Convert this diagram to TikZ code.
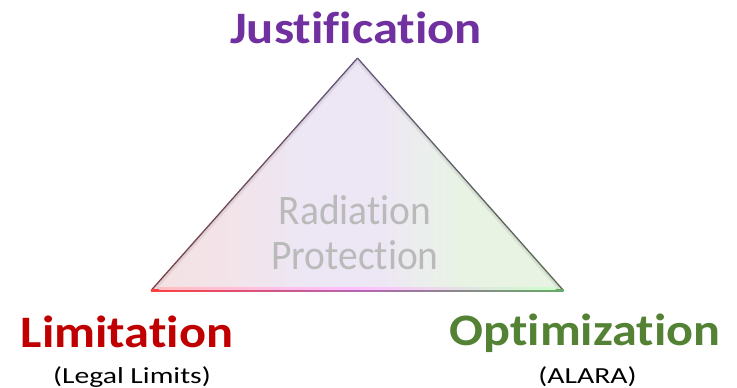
\documentclass[tikz,border=0pt]{standalone}
\usepackage{fontspec}
\setmainfont{Carlito}[Ligatures=NoCommon]
\usepackage{tikz}
\usetikzlibrary{calc}
\definecolor{justpurple}{RGB}{112,48,160}
\definecolor{limred}{RGB}{192,0,0}
\definecolor{optgreen}{RGB}{84,130,53}
\definecolor{pinkwash}{RGB}{244,225,227}
\definecolor{rosewash}{RGB}{242,228,234}
\definecolor{lilacwash}{RGB}{237,230,244}
\definecolor{mistwash}{RGB}{236,238,238}
\definecolor{greenwash}{RGB}{232,243,228}
\definecolor{rimred}{RGB}{120,60,64}
\definecolor{rimpurple}{RGB}{96,80,120}
\definecolor{rimgreen}{RGB}{84,104,76}
\definecolor{coregray}{RGB}{186,186,186}
% left-to-right wash; the path spans 25bp..75bp
\pgfdeclarehorizontalshading{triwash}{100bp}{
  color(0bp)=(pinkwash); color(25bp)=(pinkwash); color(35.8bp)=(rosewash);
  color(43bp)=(lilacwash); color(52.8bp)=(lilacwash); color(57.6bp)=(mistwash);
  color(62.5bp)=(greenwash); color(75bp)=(greenwash); color(100bp)=(greenwash)}
\tikzset{
  pillar/.style = {font=\fontsize{45}{48}\selectfont\bfseries, anchor=base, inner sep=0pt},
  pillarnote/.style = {font=\fontsize{23}{26}\selectfont, anchor=base, inner sep=0pt,
                       xscale=1.29},
  coretext/.style = {font=\fontsize{42}{45}\selectfont, text=coregray, align=center,
                     anchor=base, inner sep=0pt, xscale=0.94},
  rimline/.style = {line width=1.2pt, line cap=butt}
}

\begin{document}
\begin{tikzpicture}[x=1pt, y=-1pt]
\useasboundingbox (0,0) rectangle (737,388);
% triangle corners
\coordinate (ap) at (357.5,58);
\coordinate (bl) at (151,290.5);
\coordinate (br) at (563.5,290.5);

% body with the colour wash and a soft inner bevel
\shade[shading=triwash] (ap) -- (bl) -- (br) -- cycle;
\begin{scope}
  \clip (ap) -- (bl) -- (br) -- cycle;
  \draw[line width=7pt, black, opacity=0.06] (ap) -- (bl) -- (br) -- cycle;
  \draw[line width=3pt, black, opacity=0.07] (ap) -- (bl) -- (br) -- cycle;
\end{scope}

% rims
\foreach \i in {0,...,11}{
  \pgfmathsetmacro\pa{\i/12}
  \pgfmathsetmacro\pb{(\i+1)/12}
  \pgfmathtruncatemacro\mix{100-\i*100/11}
  \draw[rimline, draw=rimred!\mix!rimpurple] ($(bl)!\pa!(ap)$) -- ($(bl)!\pb!(ap)$);
  \draw[rimline, draw=rimgreen!\mix!rimpurple] ($(br)!\pa!(ap)$) -- ($(br)!\pb!(ap)$);
}
\shade[left color=red!75!white, right color=green!45!black!60!white,
       middle color=violet!60!white]
  ($(bl)+(0,-0.8)$) rectangle ($(br)+(0,0.8)$);
\shade[left color=pink, right color=green!20!white, middle color=magenta!25!white]
  ($(bl)+(8,-3.5)$) rectangle ($(br)+(-8,-0.8)$);

% centre text (base = last line)
\node[coretext] (core) at (355,269) {Radiation\\Protection};

% the three principles
\node[pillar, xscale=1.125, text=justpurple] (just) at (356,43) {Justification};
\node[pillar, xscale=1.12, text=limred] (lim) at (127,347) {Limitation};
\node[pillarnote] (limsub) at (132,383) {(Legal Limits)};
\node[pillar, xscale=1.115, text=optgreen] (opt) at (585,345) {Optimization};
\node[pillarnote] (optsub) at (587.5,383) {(ALARA)};
\end{tikzpicture}
\end{document}
